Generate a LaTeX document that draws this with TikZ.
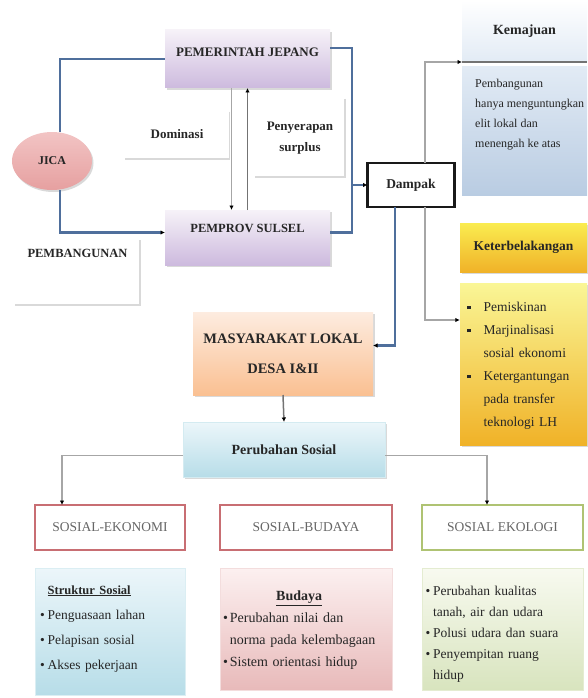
\documentclass[tikz,border=0pt]{standalone}
\usepackage{fontspec}
\setmainfont{Liberation Serif}
\usetikzlibrary{arrows.meta,shapes.geometric,shadows,positioning}

\definecolor{garisbiru}{RGB}{79,111,156}
\definecolor{unguatas}{RGB}{246,242,248}
\definecolor{ungubawah}{RGB}{205,186,222}
\definecolor{pinkatas}{RGB}{242,196,196}
\definecolor{pinkbawah}{RGB}{230,160,160}
\definecolor{biruatas}{RGB}{226,235,245}
\definecolor{birubawah}{RGB}{185,204,226}
\definecolor{kuningatas}{RGB}{250,236,80}
\definecolor{kuningbawah}{RGB}{240,178,40}
\definecolor{kuningmuda}{RGB}{250,246,150}
\definecolor{jinggaatas}{RGB}{253,236,224}
\definecolor{jinggabawah}{RGB}{250,192,146}
\definecolor{tosqatas}{RGB}{236,246,250}
\definecolor{tosqbawah}{RGB}{183,221,232}
\definecolor{merahbingkai}{RGB}{200,110,115}
\definecolor{hijaubingkai}{RGB}{175,195,115}
\definecolor{merahatas}{RGB}{252,240,240}
\definecolor{merahbawah}{RGB}{232,186,186}
\definecolor{hijauatas}{RGB}{248,250,240}
\definecolor{hijaubawah}{RGB}{216,228,190}

\begin{document}
\begin{tikzpicture}[x=1pt,y=-1pt,
  kotak/.style = {rectangle,inner sep=0pt,outer sep=0pt,text=black!85,font=\fontsize{12}{14}\selectfont\bfseries},
  bayang/.style = {drop shadow={opacity=0.3,shadow xshift=1.5pt,shadow yshift=-2pt}},
  biru/.style = {draw=garisbiru,line width=2.5pt},
  abu/.style = {draw=black!35,line width=1.5pt},
  panah/.style = {-{Latex[length=4.5pt,width=4.5pt,color=black]}},
  bingkai/.style = {draw=black!15,line width=1.5pt},
  judul/.style = {kotak,draw=#1,line width=2.5pt,fill=white,minimum height=45pt,font=\fontsize{13.5}{15}\selectfont,text=black!60},
  isi/.style = {inner sep=0pt,align=left,text=black!85}]

\useasboundingbox (0,0) rectangle (587,698);

\node[kotak,bayang,top color=unguatas,bottom color=ungubawah,minimum width=165pt,text height=27pt,text depth=31pt,font=\fontsize{13}{15}\selectfont\bfseries] (pemerintah) at (247.5,59) {PEMERINTAH JEPANG};
\node[kotak,bayang,top color=unguatas,bottom color=ungubawah,minimum width=165pt,text height=22pt,text depth=33pt,font=\fontsize{12.5}{15}\selectfont\bfseries] (pemprov) at (247.5,237.5) {PEMPROV SULSEL};
\node[kotak,ellipse,bayang,top color=pinkatas,middle color=white!70!pinkatas,bottom color=pinkbawah,minimum width=80pt,minimum height=58pt] (jica) at (52,161) {JICA};

\node[kotak,minimum width=105pt,text height=27pt,text depth=20pt,font=\fontsize{13}{15}\selectfont\bfseries] (dominasi) at (177,135.5) {Dominasi};
\node[kotak,align=center,minimum width=90pt,minimum height=78pt,font=\fontsize{13}{21}\selectfont\bfseries] (surplus) at (300,138) {Penyerapan\\surplus};
\node[kotak,minimum width=125pt,text height=17pt,text depth=48pt,font=\fontsize{12.5}{14}\selectfont\bfseries] (pembangunan) at (77.5,272.5) {PEMBANGUNAN};
\draw[bingkai] (dominasi.north east) -- (dominasi.south east) -- (dominasi.south west);
\draw[bingkai] (surplus.north east) -- (surplus.south east) -- (surplus.south west);
\draw[bingkai] (pembangunan.north east) -- (pembangunan.south east) -- (pembangunan.south west);

\node[kotak,draw=black!90,line width=2.5pt,fill=white,minimum width=87pt,minimum height=44pt,font=\fontsize{13.5}{15}\selectfont\bfseries] (dampak) at (411,185) {Dampak};

\node[kotak,top color=white,bottom color=biruatas,minimum width=125pt,minimum height=62pt,font=\fontsize{14}{16}\selectfont\bfseries] (kemajuan) at (524.5,31) {Kemajuan};
\draw[draw=black!55,line width=2.5pt] (kemajuan.south west) -- (kemajuan.south east);
\node[kotak,top color=biruatas,bottom color=birubawah,minimum width=125pt,minimum height=129pt] (kemajuanisi) at (524.5,131) {};
\node[isi,below right=12pt and 13pt of kemajuanisi.north west,font=\fontsize{12}{20}\selectfont] (kemajuanteks) {Pembangunan\\hanya menguntungkan\\elit lokal dan\\menengah ke atas};

\node[kotak,bayang,top color=kuningatas,bottom color=kuningbawah,minimum width=127pt,minimum height=49pt,font=\fontsize{13.5}{15}\selectfont\bfseries] (tertinggal) at (523.5,247.5) {Keterbelakangan};
\node[isi,bayang,top color=kuningmuda,bottom color=kuningbawah,minimum width=127pt,minimum height=162pt,text width=113pt,font=\fontsize{13.5}{23}\selectfont] (tertinggalisi) at (523.5,364) {%
  \begin{tabular}{@{}l@{\hspace{13pt}}l@{}}
  \rule[2pt]{3.5pt}{3.5pt} & Pemiskinan\\
  \rule[2pt]{3.5pt}{3.5pt} & Marjinalisasi\\
   & sosial ekonomi\\
  \rule[2pt]{3.5pt}{3.5pt} & Ketergantungan\\
   & pada transfer\\
   & teknologi LH
  \end{tabular}};

\node[kotak,bayang,align=center,top color=jinggaatas,bottom color=jinggabawah,minimum width=180pt,minimum height=83pt,font=\fontsize{14.5}{30}\selectfont\bfseries] (masyarakat) at (283,353.5) {MASYARAKAT LOKAL\\DESA I\&II};
\node[kotak,bayang,top color=tosqatas,bottom color=tosqbawah,draw=tosqbawah!60,minimum width=202pt,minimum height=55pt,font=\fontsize{14}{16}\selectfont\bfseries] (perubahan) at (284,449.5) {Perubahan Sosial};

\node[judul=merahbingkai,minimum width=150pt] (sosek) at (110,527.5) {SOSIAL-EKONOMI};
\node[judul=merahbingkai,minimum width=172pt] (sosbud) at (306,527.5) {SOSIAL-BUDAYA};
\node[judul=hijaubingkai,minimum width=161pt] (soseko) at (502.5,527.5) {SOSIAL EKOLOGI};

\node[isi,draw=tosqbawah!50,top color=tosqatas,bottom color=tosqbawah,minimum width=150pt,minimum height=127pt,text width=140pt,font=\fontsize{13.5}{25}\selectfont] (struktur) at (110,631.5) {%
  \begin{tabular}{@{}l@{\hspace{3pt}}l@{}}
   & \fontsize{12.5}{25}\selectfont\textbf{\underline{Struktur Sosial}}\\
  \textbullet & Penguasaan lahan\\
  \textbullet & Pelapisan sosial\\
  \textbullet & Akses pekerjaan\\[10pt]
  \end{tabular}};
\node[isi,draw=merahbawah!50,top color=merahatas,bottom color=merahbawah,minimum width=172pt,minimum height=122pt,text width=166pt,font=\fontsize{14}{22}\selectfont] (budaya) at (306,629) {%
  \begin{tabular}{@{}l@{\hspace{2pt}}l@{}}
  \multicolumn{2}{c}{\textbf{\underline{Budaya}}}\\
  \textbullet & Perubahan nilai dan\\
   & norma pada kelembagaan\\
  \textbullet & Sistem orientasi hidup
  \end{tabular}};
\node[isi,draw=hijaubawah!70,top color=hijauatas,bottom color=hijaubawah,minimum width=161pt,minimum height=122pt,text width=154pt,font=\fontsize{13.5}{21}\selectfont] (ekologi) at (502.5,629) {%
  \begin{tabular}{@{}l@{\hspace{3pt}}l@{}}
  \rule{0pt}{24pt}\textbullet & Perubahan kualitas\\
   & tanah, air dan udara\\
  \textbullet & Polusi udara dan suara\\
  \textbullet & Penyempitan ruang\\
   & hidup
  \end{tabular}};

\coordinate (sambung) at (352,185);
\draw[biru] ([xshift=8pt]jica.north) |- (pemerintah.west);
\draw[biru,panah] ([xshift=8pt]jica.south) |- ([yshift=5pt]pemprov.west);
\draw[abu,panah] ([xshift=-16pt]pemerintah.south) -- ([xshift=-16pt]pemprov.north);
\draw[draw=black!55,line width=1.5pt,panah] (pemprov.north) -- (pemerintah.south);
\draw[biru] ([yshift=11pt]pemerintah.east) -| (sambung);
\draw[biru] ([yshift=5pt]pemprov.east) -| (sambung);
\draw[biru,panah] (sambung) -- (dampak.west);
\draw[abu,panah] ([xshift=14pt]dampak.north) |- (kemajuan.south west);
\draw[abu,panah] ([xshift=14pt]dampak.south) |- ([yshift=44pt]tertinggalisi.west);
\draw[biru,panah] ([xshift=-16pt]dampak.south) |- ([yshift=8pt]masyarakat.east);
\draw[draw=black!55,line width=1.5pt,panah] (masyarakat.south) -- (perubahan.north);
\draw[abu,panah] ([yshift=-6pt]perubahan.west) -| ([xshift=-48pt]sosek.north);
\draw[abu,panah] ([yshift=-6pt]perubahan.east) -| ([xshift=-15.5pt]soseko.north);
\end{tikzpicture}
\end{document}
